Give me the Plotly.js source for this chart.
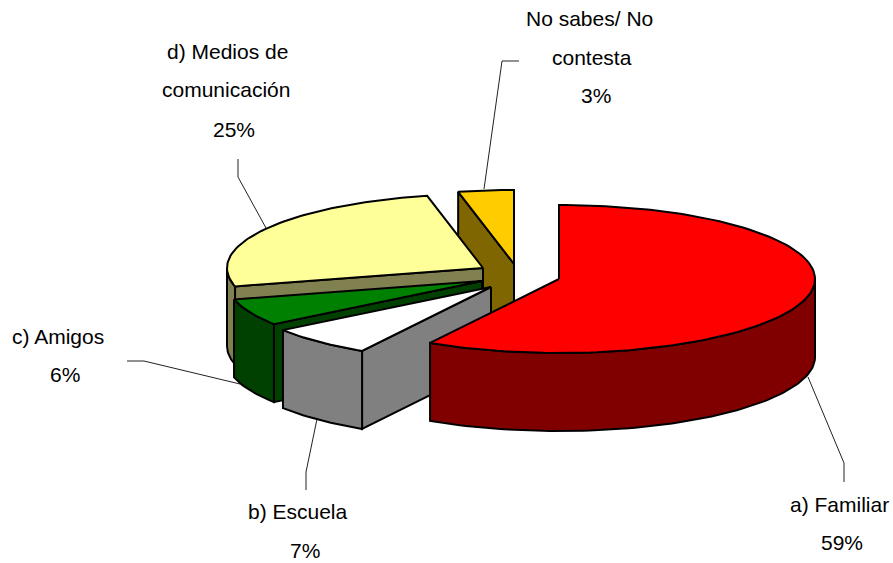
<!DOCTYPE html>
<html>
<head>
<meta charset="utf-8">
<script src="https://cdn.plot.ly/plotly-3.0.1.min.js"></script>
<style>html,body{margin:0;padding:0;background:#fff}#chart{width:893px;height:563px}</style>
</head>
<body>
<div id="chart"></div>
<script>
// Data (slice sizes in percent; labels show them rounded)
const categories = ["a) Familiar", "b) Escuela", "c) Amigos", "d) Medios de comunicación", "No sabes/ No contesta"];
const values = [58.4, 6.7, 5.9, 25.5, 3.5];
const percentLabels = ["59%", "7%", "6%", "25%", "3%"];
const labelLines = [["a) Familiar"], ["b) Escuela"], ["c) Amigos"], ["d) Medios de", "comunicación"], ["No sabes/ No", "contesta"]];

// Styling and geometry of the tilted, exploded pie
const topColors = ["#FF0000", "#FFFFFF", "#008000", "#FFFF99", "#FFCC00"];
const sideColors = ["#800000", "#808080", "#004000", "#808050", "#806600"];
const apexX = [559, 491, 482, 483, 514];
const apexY = [279, 287, 281, 268, 264];
const RX = 256, RY = 74, DEPTH = 78;
const drawOrder = [4, 3, 2, 1, 0];
const labelAnchors = [
  [[839, 504], [842, 542]],
  [[298, 511], [305, 550]],
  [[58, 336], [65, 374]],
  [[227, 51], [226, 89], [234, 129]],
  [[589, 18], [592, 57], [596, 95]]
];
const leaders = [
  [[808, 377], [844, 463], [844, 482]],
  [[317, 419], [306, 472], [306, 490]],
  [[240, 384], [144, 361], [127, 361]],
  [[266, 228], [238, 177], [238, 159]],
  [[484, 189], [502, 61], [519, 61]]
];

const rad = d => d * Math.PI / 180;
const total = values.reduce((a, b) => a + b, 0);
const angles = [];
values.reduce((acc, v) => { angles.push([acc / total * 360, (acc + v) / total * 360]); return acc + v; }, 0);

function rimPoint(i, deg, drop) {
  return [apexX[i] + RX * Math.sin(rad(deg)), apexY[i] - RY * Math.cos(rad(deg)) + drop];
}
function arc(i, a, b, drop) {
  const n = Math.max(2, Math.ceil(Math.abs(b - a) / 1.5));
  const pts = [];
  for (let k = 0; k <= n; k++) pts.push(rimPoint(i, a + (b - a) * k / n, drop));
  return pts;
}
function polygon(points, fill) {
  const closed = points.concat([points[0]]);
  return {
    x: closed.map(p => p[0]), y: closed.map(p => p[1]),
    type: "scatter", mode: "lines", fill: "toself", fillcolor: fill,
    line: {color: "#000000", width: 2, shape: "linear"},
    hoverinfo: "skip", showlegend: false
  };
}

const traces = [];
drawOrder.forEach(i => {
  const [a, b] = angles[i];
  const apex = [apexX[i], apexY[i]];
  const apexLow = [apexX[i], apexY[i] + DEPTH];
  // Cut faces that turn towards the viewer
  if (Math.cos(rad(a - 90)) < -1e-6) {
    traces.push(polygon([apex, rimPoint(i, a, 0), rimPoint(i, a, DEPTH), apexLow], sideColors[i]));
  }
  if (Math.cos(rad(b + 90)) < -1e-6) {
    traces.push(polygon([apex, rimPoint(i, b, 0), rimPoint(i, b, DEPTH), apexLow], sideColors[i]));
  }
  // Outer wall: only the front half of the rim shows
  const wallA = Math.max(a, 90), wallB = Math.min(b, 270);
  if (wallB > wallA) {
    traces.push(polygon(arc(i, wallA, wallB, 0).concat(arc(i, wallB, wallA, DEPTH)), sideColors[i]));
  }
  // Top face
  traces.push(polygon([apex].concat(arc(i, a, b, 0)), topColors[i]));
});

const annotations = [];
categories.forEach((c, i) => {
  labelLines[i].concat([percentLabels[i]]).forEach((text, j) => {
    annotations.push({
      x: labelAnchors[i][j][0], y: labelAnchors[i][j][1], xref: "x", yref: "y",
      text: text, showarrow: false, xanchor: "center", yanchor: "middle",
      font: {family: "Liberation Sans, Arial, sans-serif", size: 21, color: "#000000"}
    });
  });
});

const shapes = leaders.map(pts => ({
  type: "path", xref: "x", yref: "y", layer: "below",
  path: "M" + pts.map(p => p[0] + "," + p[1]).join(" L"),
  line: {color: "#222222", width: 1}
}));

const layout = {
  width: 893, height: 563,
  margin: {l: 0, r: 0, t: 0, b: 0},
  paper_bgcolor: "#FFFFFF", plot_bgcolor: "#FFFFFF",
  xaxis: {range: [0, 893], visible: false, fixedrange: true},
  yaxis: {range: [563, 0], visible: false, fixedrange: true},
  showlegend: false, annotations: annotations, shapes: shapes
};
Plotly.newPlot("chart", traces, layout, {displayModeBar: false, staticPlot: true});
</script>
</body>
</html>
